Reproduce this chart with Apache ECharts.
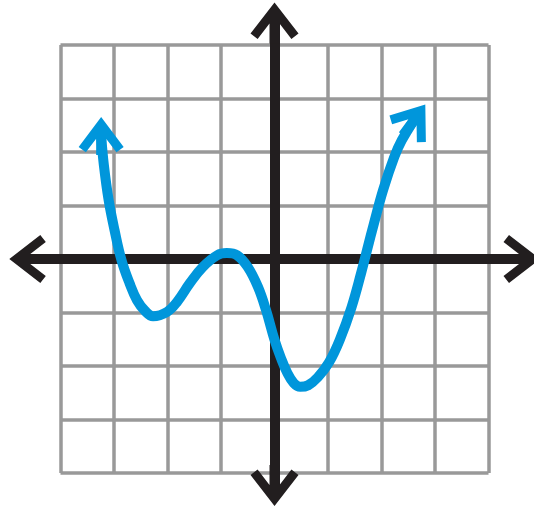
<!DOCTYPE html>
<html>
<head>
<meta charset="utf-8">
<script src="https://cdn.jsdelivr.net/npm/echarts@6/dist/echarts.min.js"></script>
<style>
  html, body { margin: 0; padding: 0; background: #fff; }
  #chart { width: 534px; height: 508px; }
</style>
</head>
<body>
<div id="chart"></div>
<script>
// curve points (grid units)
const curveX = [-3.24, -3.19, -3.10, -2.99, -2.86, -2.71, -2.57, -2.42, -2.27, -2.01, -1.82, -1.58, -1.34, -1.07, -0.89, -0.70, -0.50, -0.31, -0.16, 0.00, 0.12, 0.24, 0.36, 0.48, 0.63, 0.81, 1.02, 1.22, 1.44, 1.62, 1.73, 1.86, 2.03, 2.24, 2.38, 2.61];
const curveY = [2.30, 1.76, 1.10, 0.54, -0.02, -0.45, -0.77, -0.97, -1.07, -0.99, -0.80, -0.45, -0.15, 0.07, 0.11, 0.07, -0.15, -0.52, -0.95, -1.51, -1.85, -2.13, -2.32, -2.39, -2.36, -2.21, -1.93, -1.51, -0.90, -0.26, 0.17, 0.67, 1.29, 1.91, 2.22, 2.60];
// gray grid extent
const gridMin = -4;
const gridMax = 4;
// arrow direction at each end of the curve (degrees)
const endRotate = [0, -36];

const blue = '#0096db';
const black = '#221e1f';
const gray = '#999999';

// filled chevron with a short stem, pointing up
const blueArrow = 'path://M22.5,0 L45,30 L37.8,35.4 L27.5,21.7 L27.5,38 L17.5,38 L17.5,21.7 L7.2,35.4 L0,30 Z';
const blackArrow = 'path://M24,0 L48,31 L40.9,36.5 L29,21 L29,41 L19,41 L19,21 L7.1,36.5 L0,31 Z';

const chart = echarts.init(document.getElementById('chart'), null, { renderer: 'canvas' });

const seriesData = curveX.map(function (x, i) {
  const item = { value: [x, curveY[i]], symbol: 'none' };
  if (i === 0 || i === curveX.length - 1) {
    item.symbol = blueArrow;
    item.symbolSize = [45, 38];
    item.symbolRotate = endRotate[i === 0 ? 0 : 1];
  }
  return item;
});

const hidden = { show: false };

const option = {
  animation: false,
  grid: [
    // gray grid
    { left: 60.5, top: 45, width: 428, height: 428 },
    // black axes, longer than the grid
    { left: 29.8, top: 23, width: 489.7, height: 462.5 }
  ],
  xAxis: [
    {
      type: 'value', gridIndex: 0, min: gridMin, max: gridMax, interval: 1, z: 0,
      axisLine: hidden, axisTick: hidden, axisLabel: hidden,
      splitLine: { show: true, lineStyle: { color: gray, width: 3.5 } }
    },
    {
      type: 'value', gridIndex: 1, min: -4.574, max: 4.579, z: 1,
      axisLine: {
        show: true, onZero: true,
        symbol: [blackArrow, blackArrow], symbolSize: [48, 41],
        lineStyle: { color: black, width: 10 }
      },
      axisTick: hidden, axisLabel: hidden, splitLine: hidden
    }
  ],
  yAxis: [
    {
      type: 'value', gridIndex: 0, min: gridMin, max: gridMax, interval: 1, z: 0,
      axisLine: hidden, axisTick: hidden, axisLabel: hidden,
      splitLine: { show: true, lineStyle: { color: gray, width: 3.5 } }
    },
    {
      type: 'value', gridIndex: 1, min: -4.234, max: 4.411, z: 1,
      axisLine: {
        show: true, onZero: true,
        symbol: [blackArrow, blackArrow], symbolSize: [48, 41],
        lineStyle: { color: black, width: 10 }
      },
      axisTick: hidden, axisLabel: hidden, splitLine: hidden
    }
  ],
  series: [
    {
      type: 'line',
      xAxisIndex: 0,
      yAxisIndex: 0,
      z: 3,
      smooth: 0.4,
      clip: false,
      data: seriesData,
      lineStyle: { color: blue, width: 10, cap: 'round', join: 'round' },
      itemStyle: { color: blue }
    }
  ]
};

chart.setOption(option);
</script>
</body>
</html>
